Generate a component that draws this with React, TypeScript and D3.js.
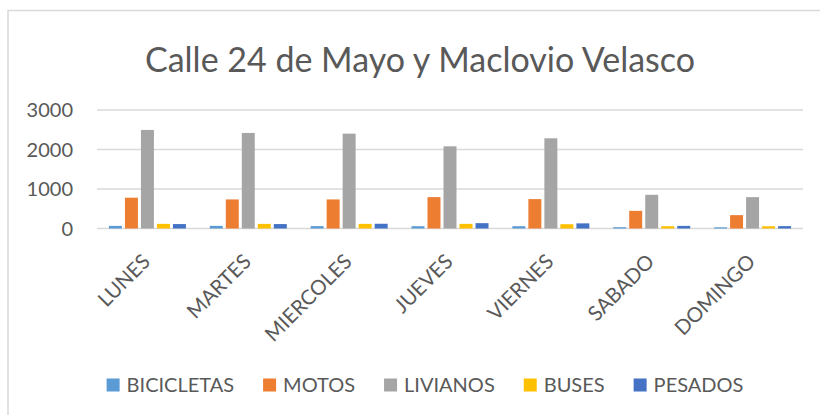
import React from 'react';
import * as d3 from 'd3';

const days = ["LUNES", "MARTES", "MIERCOLES", "JUEVES", "VIERNES", "SABADO", "DOMINGO"];
const seriesNames = ["BICICLETAS", "MOTOS", "LIVIANOS", "BUSES", "PESADOS"];
const seriesColors = ["#5B9BD5", "#ED7D31", "#A5A5A5", "#FFC000", "#4472C4"];

const bicicletas = [66, 66, 60, 58, 58, 33, 30];
const motos = [780, 736, 736, 794, 744, 447, 338];
const livianos = [2495, 2419, 2401, 2081, 2284, 853, 794];
const buses = [117, 117, 117, 117, 109, 58, 58];
const pesados = [112, 112, 120, 135, 130, 66, 60];
const allSeries = [bicicletas, motos, livianos, buses, pesados];

const yTicks = [0, 1000, 2000, 3000];
const title = "Calle 24 de Mayo y Maclovio Velasco";

const W = 820;
const H = 415;
const plot = { left: 97, right: 803, top: 110, bottom: 228.5 };
const font = "Lato, 'Open Sans', sans-serif";
const textColor = "#595959";

// rough text width estimate so the legend can be centred like Excel's
function textWidth(s: string, size: number) {
  if (typeof document === "undefined") return s.length * size * 0.6;
  const c = document.createElement("canvas").getContext("2d");
  if (!c) return s.length * size * 0.6;
  c.font = `${size}px Lato`;
  return c.measureText(s).width;
}

export default function App() {
  const x0 = d3.scaleBand<string>().domain(days).range([plot.left, plot.right]).padding(0);
  const groupW = 77;
  const x1 = d3.scaleBand<string>().domain(seriesNames).range([0, groupW]).paddingInner(0.19);
  const y = d3.scaleLinear().domain([0, 3000]).range([plot.bottom, plot.top]);

  const legendSize = 20;
  const sq = 13;
  const items = seriesNames.map(n => sq + 7 + textWidth(n, legendSize));
  const spacing = 29;
  const total = d3.sum(items) + spacing * (items.length - 1);
  let lx = 425 - total / 2;
  const legendX = items.map(w => {
    const p = lx;
    lx += w + spacing;
    return p;
  });
  const legendY = 385;

  return (
    <svg width={W} height={H} style={{ position: "absolute", left: 0, top: 0, background: "#fff" }}
      fontFamily={font}>
      <rect x={0} y={0} width={W} height={H} fill="#fff" />
      <rect x={8} y={10.5} width={900} height={500} fill="none" stroke="#D9D9D9" strokeWidth={1.5} />
      <text x={420} y={72} textAnchor="middle" fontSize={34} fill={textColor}>{title}</text>

      {yTicks.map(t => (
        <g key={t}>
          <line x1={plot.left} x2={plot.right} y1={y(t)} y2={y(t)} stroke="#D9D9D9" strokeWidth={1.5} />
          <text x={73} y={y(t)} dy="0.35em" textAnchor="end" fontSize={20} fill={textColor}>{t}</text>
        </g>
      ))}

      {days.map((d, i) => {
        const cx = (x0(d) as number) + x0.bandwidth() / 2;
        const gx = cx - groupW / 2;
        return (
          <g key={d}>
            {seriesNames.map((s, j) => {
              const v = allSeries[j][i];
              return (
                <rect key={s} x={gx + (x1(s) as number)} y={y(v)} width={x1.bandwidth()}
                  height={y(0) - y(v)} fill={seriesColors[j]} />
              );
            })}
            <text transform={`translate(${cx + 4},${263}) rotate(-45)`} textAnchor="end"
              fontSize={20.5} fill={textColor}>{d}</text>
          </g>
        );
      })}

      {seriesNames.map((s, j) => (
        <g key={s} transform={`translate(${legendX[j]},${legendY})`}>
          <rect x={0} y={-sq / 2} width={sq} height={sq} fill={seriesColors[j]} />
          <text x={sq + 7} y={0} dy="0.35em" fontSize={legendSize} fill={textColor}>{s}</text>
        </g>
      ))}
    </svg>
  );
}
